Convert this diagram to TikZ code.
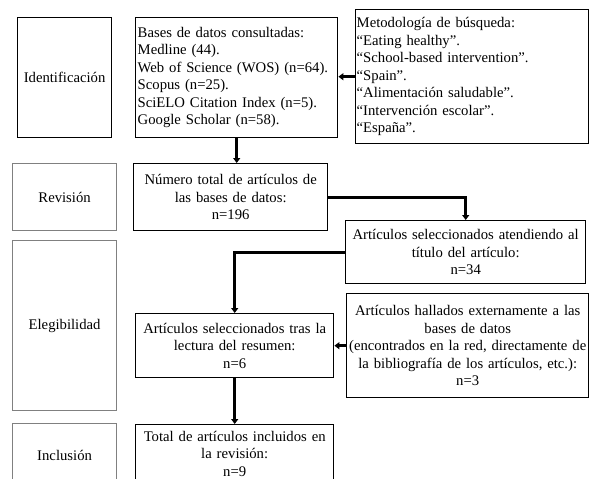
\documentclass[tikz,border=0pt]{standalone}
\usepackage{fontspec}
\setmainfont{Liberation Serif}
\usetikzlibrary{arrows.meta, positioning, calc}
\definecolor{stagegray}{RGB}{128, 128, 128}

\begin{document}
\begin{tikzpicture}[
    x=1pt, y=-1pt,
    stage/.style={rectangle, draw=stagegray, line width=1.2pt, anchor=north west, inner sep=2pt, font=\fontsize{14.7}{17.5}\selectfont, align=center},
    stepbox/.style={rectangle, draw=black, line width=1.4pt, anchor=north west, inner sep=2pt, font=\fontsize{14.7}{17.5}\selectfont, align=center},
    flow/.style={line width=2.6pt, -{Triangle[length=5pt, width=7pt]}}
]
    \useasboundingbox (0,0) rectangle (589,479);
    \clip (0,0) rectangle (589,479);

    % Stages
    \node[stage, draw=black, minimum width=94pt, minimum height=120pt] (ident) at (17,17) {Identificación};
    \node[stage, minimum width=104pt, minimum height=67pt] (revis) at (12,163) {Revisión};
    \node[stage, minimum width=104pt, minimum height=170pt] (elegi) at (12,240) {Elegibilidad};
    \node[stage, minimum width=104pt, minimum height=64pt] (inclu) at (12,423) {Inclusión};

    % Search
    \node[stepbox, minimum width=202pt, minimum height=120pt, text width=198pt, align=left] (bases) at (135,17) {Bases de datos consultadas:\\Medline (44).\\Web of Science (WOS) (n=64).\\Scopus (n=25).\\SciELO Citation Index (n=5).\\Google Scholar (n=58).};
    \node[stepbox, minimum width=233pt, minimum height=134pt, text width=231pt, inner sep=1pt, align=left] (meto) at (355,9) {Metodología de búsqueda:\\“Eating healthy”.\\“School-based intervention”.\\“Spain”.\\“Alimentación saludable”.\\“Intervención escolar”.\\“España”.};

    % Selection
    \node[stepbox, minimum width=194pt, minimum height=67pt, text width=190pt] (numero) at (133,163) {Número total de artículos de\\las bases de datos:\\n=196};
    \node[stepbox, minimum width=240pt, minimum height=63pt, text width=236pt] (titulo) at (345,220) {Artículos seleccionados atendiendo al\\título del artículo:\\n=34};
    \node[stepbox, minimum width=198pt, minimum height=64pt, text width=194pt] (resumen) at (135,313) {Artículos seleccionados tras la\\lectura del resumen:\\n=6};
    \node[stepbox, minimum width=242pt, minimum height=104pt, text width=238pt] (externos) at (346,293) {Artículos hallados externamente a las\\bases de datos\\(encontrados en la red, directamente de\\la bibliografía de los artículos, etc.):\\n=3};
    \node[stepbox, minimum width=198pt, minimum height=58pt, text width=194pt] (total) at (135,424) {Total de artículos incluidos en\\la revisión:\\n=9};

    % Connectors
    \draw[flow] (meto.west) -- (meto.west -| bases.east);
    \draw[flow] (bases.south) -- (bases.south |- numero.north);
    \draw[flow] (numero.east) -| (titulo.north);
    \draw[flow] (titulo.west) -| (resumen.north);
    \draw[flow] (externos.west) -- (externos.west -| resumen.east);
    \draw[flow] (resumen.south) -- (total.north);
\end{tikzpicture}
\end{document}
